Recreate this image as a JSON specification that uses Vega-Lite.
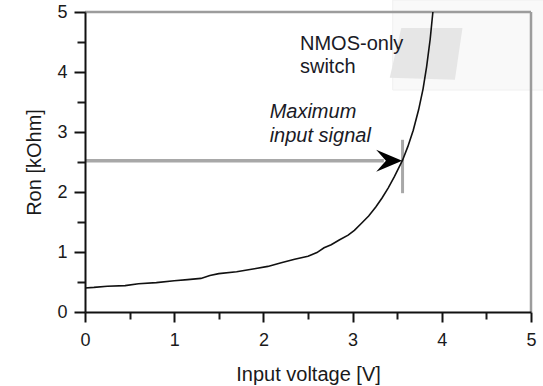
{
  "$schema": "https://vega.github.io/schema/vega-lite/v6.json",
  "width": 446,
  "height": 300,
  "autosize": {"type": "none"},
  "padding": {"left": 85, "top": 12, "right": 12, "bottom": 74},
  "background": "white",
  "config": {
    "view": {"stroke": null},
    "font": "Liberation Sans",
    "axis": {"grid": false}
  },
  "datasets": {
    "curve": [
      {"v": 0, "r": 0.40}, {"v": 0.1, "r": 0.41}, {"v": 0.25, "r": 0.43}, {"v": 0.45, "r": 0.44},
      {"v": 0.6, "r": 0.47}, {"v": 0.8, "r": 0.49}, {"v": 1.0, "r": 0.52}, {"v": 1.15, "r": 0.54},
      {"v": 1.3, "r": 0.56}, {"v": 1.4, "r": 0.61}, {"v": 1.5, "r": 0.64}, {"v": 1.7, "r": 0.67},
      {"v": 1.9, "r": 0.72}, {"v": 2.05, "r": 0.76}, {"v": 2.2, "r": 0.82}, {"v": 2.35, "r": 0.88},
      {"v": 2.5, "r": 0.93}, {"v": 2.6, "r": 0.99}, {"v": 2.68, "r": 1.07}, {"v": 2.76, "r": 1.12},
      {"v": 2.85, "r": 1.20}, {"v": 2.95, "r": 1.28}, {"v": 3.02, "r": 1.36}, {"v": 3.1, "r": 1.48},
      {"v": 3.18, "r": 1.60}, {"v": 3.26, "r": 1.75}, {"v": 3.33, "r": 1.90}, {"v": 3.4, "r": 2.07},
      {"v": 3.47, "r": 2.26}, {"v": 3.56, "r": 2.53}, {"v": 3.62, "r": 2.76}, {"v": 3.68, "r": 3.03},
      {"v": 3.74, "r": 3.37}, {"v": 3.79, "r": 3.72}, {"v": 3.83, "r": 4.09}, {"v": 3.87, "r": 4.55},
      {"v": 3.9, "r": 5.0}
    ],
    "frame": [
      {"v": 0, "v2": 5, "r": 5, "r2": 5},
      {"v": 5, "v2": 5, "r": 0, "r2": 5}
    ],
    "inset": [{"v": 3.45, "v2": 5.15, "r": 3.7, "r2": 5.2}],
    "patch": [{"v": 3.82, "r": 4.32}],
    "shaft": [{"v": 0, "v2": 3.35, "r": 2.52, "r2": 2.52}],
    "limit": [{"v": 3.56, "v2": 3.56, "r": 1.98, "r2": 2.87}],
    "head": [{"v": 3.41, "r": 2.52}],
    "device": [{"v": 2.41, "r": 4.37, "label": ["NMOS-only", "switch"]}],
    "signal": [{"v": 2.07, "r": 3.23, "label": ["Maximum", "input signal"]}]
  },
  "resolve": {"axis": {"x": "independent", "y": "independent"}},
  "layer": [
    {
      "data": {"name": "inset"},
      "mark": {"type": "rect", "fill": "#f9f9f9", "stroke": "#f0f0f0", "strokeWidth": 1},
      "encoding": {
        "x": {"field": "v", "type": "quantitative", "scale": {"domain": [0, 5], "nice": false}, "axis": null},
        "x2": {"field": "v2"},
        "y": {"field": "r", "type": "quantitative", "scale": {"domain": [0, 5], "nice": false}, "axis": null},
        "y2": {"field": "r2"}
      }
    },
    {
      "data": {"name": "patch"},
      "mark": {"type": "point", "filled": true, "fill": "#e6e6e6", "strokeWidth": 0, "opacity": 1, "size": 5184,
               "shape": "M-0.68,-0.69 L1.02,-0.69 L0.81,0.75 L-1,0.69 Z"},
      "encoding": {
        "x": {"field": "v", "type": "quantitative", "scale": {"domain": [0, 5], "nice": false}, "axis": null},
        "y": {"field": "r", "type": "quantitative", "scale": {"domain": [0, 5], "nice": false}, "axis": null}
      }
    },
    {
      "data": {"name": "frame"},
      "mark": {"type": "rule", "color": "#9c9c9c", "strokeWidth": 2.5},
      "encoding": {
        "x": {"field": "v", "type": "quantitative", "scale": {"domain": [0, 5], "nice": false},
              "axis": {"orient": "bottom", "values": [0.5, 1.5, 2.5, 3.5, 4.5], "labels": false, "domain": false,
                       "title": null, "tickSize": 7, "tickWidth": 2, "tickColor": "#1a1a1a"}},
        "x2": {"field": "v2"},
        "y": {"field": "r", "type": "quantitative", "scale": {"domain": [0, 5], "nice": false},
              "axis": {"orient": "left", "values": [0.5, 1.5, 2.5, 3.5, 4.5], "labels": false, "domain": false,
                       "title": null, "tickSize": 8, "tickWidth": 2, "tickColor": "#1a1a1a"}},
        "y2": {"field": "r2"}
      }
    },
    {
      "data": {"name": "shaft"},
      "mark": {"type": "rule", "color": "#a8a8a8", "strokeWidth": 3.5},
      "encoding": {
        "x": {"field": "v", "type": "quantitative", "scale": {"domain": [0, 5], "nice": false}, "axis": null},
        "x2": {"field": "v2"},
        "y": {"field": "r", "type": "quantitative", "scale": {"domain": [0, 5], "nice": false}, "axis": null},
        "y2": {"field": "r2"}
      }
    },
    {
      "data": {"name": "limit"},
      "mark": {"type": "rule", "color": "#a8a8a8", "strokeWidth": 3},
      "encoding": {
        "x": {"field": "v", "type": "quantitative", "scale": {"domain": [0, 5], "nice": false}, "axis": null},
        "x2": {"field": "v2"},
        "y": {"field": "r", "type": "quantitative", "scale": {"domain": [0, 5], "nice": false}, "axis": null},
        "y2": {"field": "r2"}
      }
    },
    {
      "data": {"name": "curve"},
      "mark": {"type": "line", "color": "#111111", "strokeWidth": 1.6},
      "encoding": {
        "x": {"field": "v", "type": "quantitative", "scale": {"domain": [0, 5], "nice": false},
              "axis": {"orient": "bottom", "values": [0, 1, 2, 3, 4, 5], "format": "d", "title": "Input voltage [V]",
                       "domainColor": "#111111", "domainWidth": 2, "tickColor": "#111111", "tickWidth": 2,
                       "tickSize": 10, "labelFontSize": 18, "labelColor": "#1a1a1a", "labelPadding": 9,
                       "labelFlush": false, "titleFontSize": 20, "titleFontWeight": "normal",
                       "titleColor": "#1a1a1a", "titlePadding": 15, "zindex": 1}},
        "y": {"field": "r", "type": "quantitative", "scale": {"domain": [0, 5], "nice": false},
              "axis": {"orient": "left", "values": [0, 1, 2, 3, 4, 5], "format": "d", "title": "Ron [kOhm]",
                       "domainColor": "#111111", "domainWidth": 2, "tickColor": "#111111", "tickWidth": 2,
                       "tickSize": 11, "labelFontSize": 18, "labelColor": "#1a1a1a", "labelPadding": 7,
                       "labelFlush": false, "titleFontSize": 20, "titleFontWeight": "normal",
                       "titleColor": "#1a1a1a", "titlePadding": 12, "zindex": 1}}
      }
    },
    {
      "data": {"name": "head"},
      "mark": {"type": "point", "filled": true, "color": "#000000", "opacity": 1, "size": 676,
               "shape": "M1,0 L-1,-0.85 L-0.25,0 L-1,0.85 Z"},
      "encoding": {
        "x": {"field": "v", "type": "quantitative", "scale": {"domain": [0, 5], "nice": false}, "axis": null},
        "y": {"field": "r", "type": "quantitative", "scale": {"domain": [0, 5], "nice": false}, "axis": null}
      }
    },
    {
      "data": {"name": "device"},
      "mark": {"type": "text", "align": "left", "baseline": "alphabetic", "fontSize": 20,
               "lineHeight": 23.4, "color": "#1a1a26"},
      "encoding": {
        "x": {"field": "v", "type": "quantitative", "scale": {"domain": [0, 5], "nice": false}, "axis": null},
        "y": {"field": "r", "type": "quantitative", "scale": {"domain": [0, 5], "nice": false}, "axis": null},
        "text": {"field": "label"}
      }
    },
    {
      "data": {"name": "signal"},
      "mark": {"type": "text", "align": "left", "baseline": "alphabetic", "fontSize": 20, "fontStyle": "italic",
               "lineHeight": 23.4, "color": "#1a1a26"},
      "encoding": {
        "x": {"field": "v", "type": "quantitative", "scale": {"domain": [0, 5], "nice": false}, "axis": null},
        "y": {"field": "r", "type": "quantitative", "scale": {"domain": [0, 5], "nice": false}, "axis": null},
        "text": {"field": "label"}
      }
    }
  ]
}
